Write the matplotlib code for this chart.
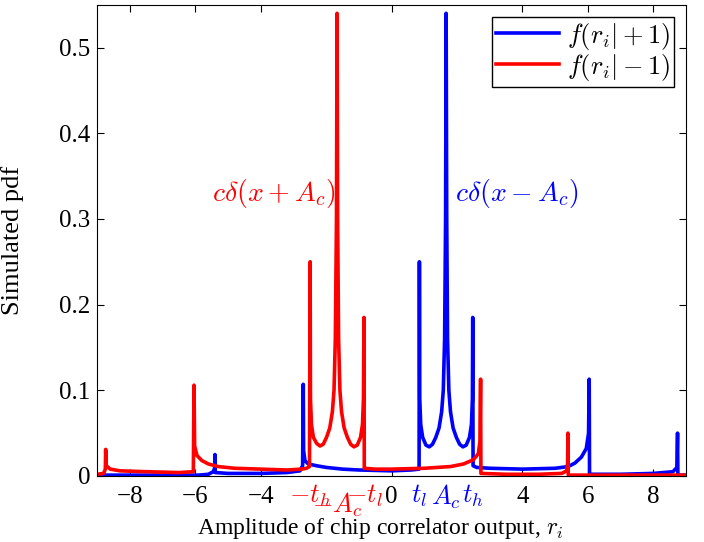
import matplotlib
matplotlib.use("Agg")
import matplotlib.pyplot as plt
import matplotlib.transforms as mtransforms

plt.rcParams["font.family"] = ["Liberation Serif", "DejaVu Serif"]
plt.rcParams["mathtext.fontset"] = "cm"
plt.rcParams["font.size"] = 17

# f(r_i | +1)
blue_x = [-9.0, -7.0, -5.9, -5.6, -5.45, -5.41, -5.40, -5.39, -5.0, -4.0, -3.2, -2.8,
          -2.72, -2.70, -2.69, -2.65, -2.55, -2.3, -2.0, -1.5, -1.0, 0.0, 0.6, 0.84,
          0.85, 0.86, 0.89, 0.95, 1.05, 1.15, 1.25, 1.35, 1.45, 1.53, 1.58, 1.62, 1.65,
          1.667, 1.685, 1.71, 1.75, 1.80, 1.88, 1.98, 2.08, 2.18, 2.28, 2.38, 2.44, 2.47,
          2.48, 2.49, 2.6, 3.0, 4.0, 5.0, 5.4, 5.6, 5.8, 5.95, 6.02, 6.04, 6.05, 7.0,
          8.0, 8.6, 8.72, 8.74, 8.75, 9.0]
blue_y = [0.001, 0.001, 0.001, 0.002, 0.005, 0.009, 0.025, 0.004, 0.003, 0.003, 0.004, 0.006,
          0.012, 0.107, 0.030, 0.018, 0.014, 0.012, 0.010, 0.008, 0.007, 0.006, 0.007, 0.008,
          0.25, 0.09, 0.06, 0.045, 0.036, 0.034, 0.037, 0.045, 0.056, 0.075, 0.10, 0.16, 0.30,
          0.54, 0.30, 0.16, 0.10, 0.075, 0.056, 0.045, 0.037, 0.034, 0.036, 0.045, 0.06, 0.09,
          0.185, 0.012, 0.010, 0.009, 0.008, 0.009, 0.011, 0.015, 0.022, 0.032, 0.05, 0.113, 0.002, 0.002,
          0.003, 0.005, 0.010, 0.05, 0.001, 0.001]

# f(r_i | -1)
red_x = [-9.0, -8.8, -8.75, -8.74, -8.72, -8.6, -8.3, -7.5, -6.5, -6.06, -6.04, -6.02,
         -5.95, -5.8, -5.6, -5.3, -4.8, -4.0, -3.2, -2.75, -2.6, -2.51, -2.49, -2.48,
         -2.45, -2.39, -2.29, -2.19, -2.09, -1.99, -1.89, -1.81, -1.76, -1.72, -1.685,
         -1.667, -1.65, -1.62, -1.58, -1.53, -1.45, -1.35, -1.25, -1.15, -1.05, -0.95,
         -0.89, -0.86, -0.845, -0.835, -0.5, 0.0, 1.0, 1.8, 2.2, 2.5, 2.65, 2.70, 2.72,
         2.73, 3.5, 4.5, 5.2, 5.35, 5.38, 5.39, 5.40, 7.0, 9.0]
red_y = [0.002, 0.003, 0.008, 0.031, 0.012, 0.008, 0.006, 0.005, 0.004, 0.005, 0.106, 0.035,
         0.024, 0.018, 0.014, 0.011, 0.009, 0.008, 0.007, 0.008, 0.009, 0.011, 0.25, 0.09,
         0.06, 0.045, 0.038, 0.035, 0.037, 0.045, 0.056, 0.075, 0.10, 0.16, 0.30,
         0.54, 0.30, 0.16, 0.10, 0.075, 0.056, 0.045, 0.037, 0.034, 0.036, 0.045,
         0.06, 0.09, 0.185, 0.009, 0.008, 0.008, 0.009, 0.011, 0.014, 0.019, 0.026, 0.04, 0.113,
         0.003, 0.002, 0.002, 0.003, 0.006, 0.015, 0.05, 0.001, 0.001, 0.001]

legend_labels = [r"$f(r_i|+1)$", r"$f(r_i|-1)$"]
xtick_vals = [-8, -6, -4, 0, 4, 6, 8]
ytick_vals = [0, 0.1, 0.2, 0.3, 0.4, 0.5]
# extra labels under the axis
red_marks = [(-2.49, r"$-t_h$"), (-0.84, r"$-t_l$")]
blue_marks = [(0.85, r"$t_l$"), (1.667, r"$A_c$"), (2.48, r"$t_h$")]

fig = plt.figure(figsize=(7.04, 5.42), dpi=100)
ax = fig.add_axes([0.138, 0.1218, 0.8365, 0.8695])

ax.plot(blue_x, blue_y, color="blue", linewidth=2.6, label=legend_labels[0])
ax.plot(red_x, red_y, color="red", linewidth=2.6, label=legend_labels[1])

ax.set_xlim(-9, 9)
ax.set_ylim(0, 0.55)
ax.set_xticks(xtick_vals)
ax.set_xticklabels(["\u22128", "\u22126", "\u22124", "0", "4", "6", "8"])
ax.set_yticks(ytick_vals)
ax.set_yticklabels(["0", "0.1", "0.2", "0.3", "0.4", "0.5"])
ax.tick_params(direction="in", top=True, right=True, length=5, labelsize=18)
ax.tick_params(axis="x", pad=7)
ax.tick_params(axis="y", pad=5)

trans = mtransforms.blended_transform_factory(ax.transData, ax.transAxes)
for xv, s in red_marks:
    ax.text(xv, -0.014, s, color="red", ha="center", va="top", fontsize=19, transform=trans)
ax.text(-1.667, -0.03, r"$-A_c$", color="red", ha="center", va="top", fontsize=19, transform=trans)
for xv, s in blue_marks:
    ax.text(xv, -0.014, s, color="blue", ha="center", va="top", fontsize=19, transform=trans)

ax.text(-1.72, 0.33, r"$c\delta(x+A_c)$", color="red", ha="right", va="center", fontsize=20)
ax.text(1.94, 0.33, r"$c\delta(x-A_c)$", color="blue", ha="left", va="center", fontsize=20)

ax.set_xlabel(r"Amplitude of chip correlator output, $r_i$", fontsize=17)
ax.xaxis.set_label_coords(0.481, -0.085)
ax.set_ylabel("Simulated pdf", fontsize=19)
ax.yaxis.set_label_coords(-0.125, 0.5)

leg = ax.legend(loc="upper right", fancybox=False, edgecolor="black",
                framealpha=1, borderaxespad=0.45, handlelength=2.4,
                handletextpad=0.3, borderpad=0.15, labelspacing=0.0,
                fontsize=19)
leg.get_frame().set_linewidth(1.0)

fig.savefig("out.png", dpi=100)
